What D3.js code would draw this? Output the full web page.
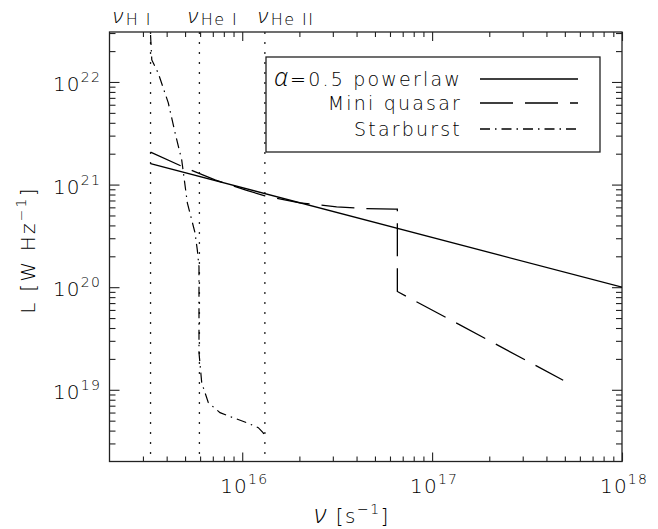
<!DOCTYPE html>
<html><head><meta charset="utf-8">
<script src="https://cdn.jsdelivr.net/npm/d3@7"></script>
<style>
body{margin:0;background:#fff}
text{font-family:"DejaVu Sans",sans-serif;fill:#000;font-weight:200}
.gk{font-family:"Open Sans","Noto Sans",sans-serif;font-style:italic;font-weight:300}
</style>
</head><body>
<svg id="c" width="658" height="529"></svg>
<script>
// ---- data ----
const edgeNu = [3.29e15, 5.95e15, 1.316e16];
const edgeSub = ["H I", "He I", "He II"];
const powerNu = [3.29e15, 1e18];
const powerL = [1.6e21, 1.0e20];
const quasarNu = [3.29e15, 4.88e15, 7.19e15, 1.056e16, 1.316e16, 2.01e16, 3.14e16, 4.43e16, 6.37e16, 6.56e16, 6.56e16, 4.9e17];
const quasarL = [2.07e21, 1.49e21, 1.11e21, 8.78e20, 7.76e20, 6.64e20, 6.07e20, 5.84e20, 5.76e20, 5.76e20, 9.08e19, 1.24e19];
const starNu = [3.29e15, 3.34e15, 3.61e15, 4.08e15, 4.43e15, 4.80e15, 5.14e15, 5.64e15, 5.80e15, 5.92e15, 5.92e15, 6.12e15, 6.63e15, 7.64e15, 8.94e15, 1.056e16, 1.215e16, 1.29e16, 1.316e16];
const starL = [2.87e22, 1.64e22, 1.22e22, 6.25e21, 3.19e21, 1.74e21, 6.64e20, 3.39e20, 2.31e20, 1.58e20, 2.30e19, 1.17e19, 7.48e18, 5.99e18, 5.35e18, 4.78e18, 4.27e18, 3.8e18, 3.5e18];
const xTickExp = [16, 17, 18];
const yTickExp = [19, 20, 21, 22];
const legendNames = ["\u03B1=0.5 powerlaw", "Mini quasar", "Starburst"];

// ---- layout ----
const L = 109.5, R = 622, T = 32, B = 461.5;
const svg = d3.select("#c");
const x = d3.scaleLog().domain([2e15, 1e18]).range([L, R]);
const y = d3.scaleLog().domain([2e18, 3.07e22]).range([B, T]);

function minors(lo, hi) {
  const out = [];
  for (let e = Math.floor(Math.log10(lo)); e <= Math.ceil(Math.log10(hi)); e++)
    for (let m = 2; m <= 9; m++) { const v = m * Math.pow(10, e); if (v > lo && v < hi) out.push(v); }
  return out;
}
const xMaj = xTickExp.map(e => Math.pow(10, e));
const yMaj = yTickExp.map(e => Math.pow(10, e));
const xMin = minors(2e15, 1e18), yMin = minors(2e18, 3.07e22);

function ax(gen, vals, size, tr) {
  const g = svg.append("g").attr("transform", tr)
    .call(gen.tickValues(vals).tickSizeInner(size).tickSizeOuter(0).tickFormat(""));
  g.select(".domain").remove();
  g.selectAll("line").attr("stroke", "#222").attr("stroke-width", 1.1);
}
ax(d3.axisBottom(x), xMaj, -9, `translate(0,${B})`);
ax(d3.axisBottom(x), xMin, -5, `translate(0,${B})`);
ax(d3.axisTop(x), xMaj, -9, `translate(0,${T})`);
ax(d3.axisTop(x), xMin, -5, `translate(0,${T})`);
ax(d3.axisLeft(y), yMaj, -10, `translate(${L},0)`);
ax(d3.axisLeft(y), yMin, -6, `translate(${L},0)`);
ax(d3.axisRight(y), yMaj, -10, `translate(${R},0)`);
ax(d3.axisRight(y), yMin, -6, `translate(${R},0)`);

svg.append("rect").attr("x", L).attr("y", T).attr("width", R - L).attr("height", B - T)
  .attr("fill", "none").attr("stroke", "#222").attr("stroke-width", 1.3);

// tick labels
function powLabel(sel, e) {
  sel.append("tspan").text("10");
  sel.append("tspan").attr("font-size", 14).attr("dy", -9).text(e);
}
xTickExp.forEach(e => {
  const t = svg.append("text").attr("x", x(Math.pow(10, e)) + 2).attr("y", 493)
    .attr("text-anchor", "middle").attr("font-size", 20).attr("letter-spacing", 1.2);
  powLabel(t, e);
});
yTickExp.forEach(e => {
  const t = svg.append("text").attr("x", 101).attr("y", y(Math.pow(10, e)) + 9)
    .attr("text-anchor", "end").attr("font-size", 20).attr("letter-spacing", 1.2);
  powLabel(t, e);
});

// axis titles
const xt = svg.append("text").attr("x", 352).attr("y", 523).attr("text-anchor", "middle")
  .attr("font-size", 20).attr("letter-spacing", 1.5);
xt.append("tspan").attr("class", "gk").attr("font-size", 25).text("\u03BD");
xt.append("tspan").attr("dx", 8).text("[s");
xt.append("tspan").attr("font-size", 14).attr("dy", -9).text("\u22121");
xt.append("tspan").attr("dy", 9).text("]");

const yt = svg.append("text").attr("transform", "translate(35,250) rotate(-90)")
  .attr("text-anchor", "middle").attr("font-size", 20).attr("letter-spacing", 2.2);
yt.append("tspan").text("L [W Hz");
yt.append("tspan").attr("font-size", 14).attr("dy", -9).text("\u22121");
yt.append("tspan").attr("dy", 9).text("]");

// edge lines + labels
svg.append("clipPath").attr("id", "pc").append("rect")
  .attr("x", L).attr("y", T).attr("width", R - L).attr("height", B - T);
edgeNu.forEach(v => {
  svg.append("line").attr("x1", x(v)).attr("x2", x(v)).attr("y1", T).attr("y2", B)
    .attr("stroke", "#222").attr("stroke-width", 1.3).attr("stroke-dasharray", "2,8");
});
const edgeLabX = [113, 188, 258];
edgeSub.forEach((s, i) => {
  const t = svg.append("text").attr("x", edgeLabX[i]).attr("y", 22.5).attr("font-size", 16)
    .attr("letter-spacing", 1.5);
  t.append("tspan").attr("class", "gk").attr("font-size", 21).text("\u03BD");
  t.append("tspan").attr("dy", 2).attr("dx", 1).text(s);
});

// curves
const line = d3.line().x(d => x(d[0])).y(d => y(d[1]));
const g = svg.append("g").attr("clip-path", "url(#pc)");
g.append("path").datum(powerNu.map((v, i) => [v, powerL[i]])).attr("d", line)
  .attr("fill", "none").attr("stroke", "#000").attr("stroke-width", 1.3);
g.append("path").datum(quasarNu.map((v, i) => [v, quasarL[i]])).attr("d", line)
  .attr("fill", "none").attr("stroke", "#000").attr("stroke-width", 1.3).attr("stroke-dasharray", "33,12");
g.append("path").datum(starNu.map((v, i) => [v, starL[i]])).attr("d", line)
  .attr("fill", "none").attr("stroke", "#000").attr("stroke-width", 1.2).attr("stroke-dasharray", "10,5,1.5,5");

// legend
svg.append("rect").attr("x", 266).attr("y", 57).attr("width", 334).attr("height", 95)
  .attr("fill", "#fff").attr("stroke", "#222").attr("stroke-width", 1.3);
const dashes = [null, "33,12", "10,5,1.5,5"];
const rowY = [79, 103, 129];
legendNames.forEach((n, i) => {
  const t = svg.append("text").attr("x", 462).attr("y", rowY[i] + 7).attr("text-anchor", "end")
    .attr("font-size", 19).attr("letter-spacing", 2.2);
  if (i === 0) {
    t.append("tspan").attr("class", "gk").attr("font-size", 25).text("\u03B1");
    t.append("tspan").text(n.slice(1));
  } else t.text(n);
  svg.append("line").attr("x1", 480).attr("x2", 578).attr("y1", rowY[i]).attr("y2", rowY[i])
    .attr("stroke", "#000").attr("stroke-width", 1.3).attr("stroke-dasharray", dashes[i]);
});
</script>
</body></html>
